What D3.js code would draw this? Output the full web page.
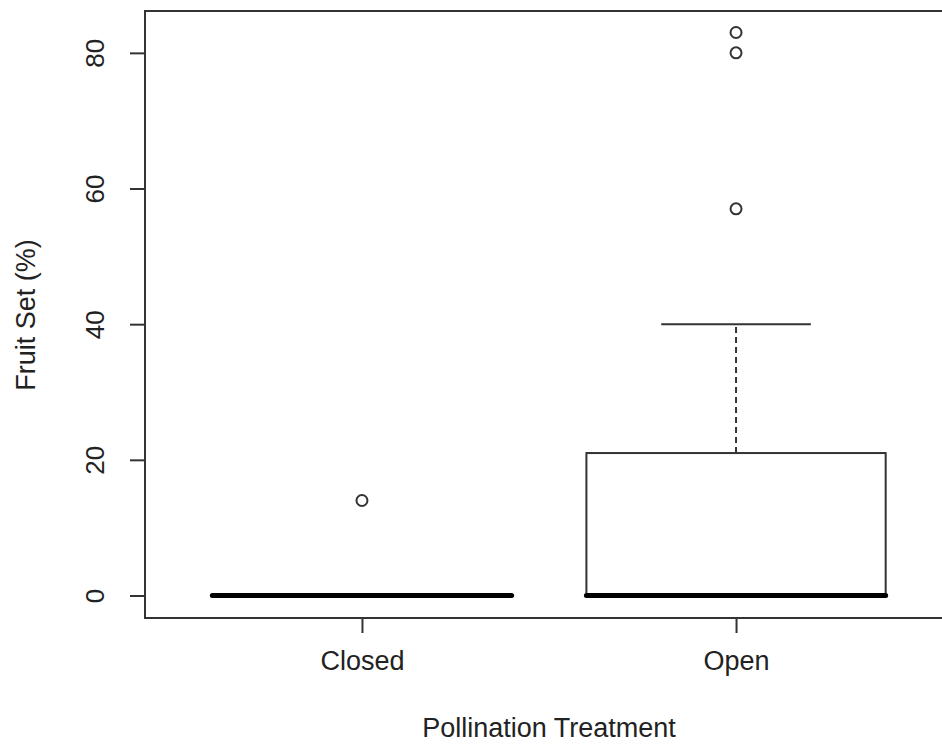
<!doctype html>
<html>
  <head>
    <script src="https://cdn.jsdelivr.net/npm/d3@7/dist/d3.min.js"></script>
    <style>
    body { margin: 0; background: #fff; }
    text { font-family: "Liberation Sans", Arial, sans-serif; fill: #222; }
    .frame { fill: none; stroke: #333; stroke-width: 2; }
    .tick line { stroke: #333; stroke-width: 2; }
    </style>
  </head>
  <body>
    <svg width="942" height="744"></svg>
    <script>
      // boxplot summaries
      var groups = ["Closed", "Open"];
      var lowWhisker = [0, 0];
      var q1 = [0, 0];
      var medians = [0, 0];
      var q3 = [0, 21];
      var highWhisker = [0, 40];
      var outliers = [[14], [57, 80, 83]];
      var yTicks = [0, 20, 40, 60, 80];

      var svg = d3.select("svg");
      var plotL = 145, plotR = 953, plotT = 10, plotB = 618;

      var x = d3.scaleLinear().domain([0.42, 2.58]).range([plotL, plotR]);
      var y = d3.scaleLinear().domain([-3.32, 86.32]).range([plotB, plotT]);

      var boxes = groups.map((g, i) => ({
        name: g, pos: i + 1,
        lo: lowWhisker[i], q1: q1[i], med: medians[i], q3: q3[i], hi: highWhisker[i],
        out: outliers[i]
      }));

      var halfW = 0.4;
      var g = svg.selectAll("g.box")
        .data(boxes)
        .enter()
        .append("g")
          .attr("class", "box");

      // whiskers (dashed)
      g.append("line")
        .attr("x1", d => x(d.pos)).attr("x2", d => x(d.pos))
        .attr("y1", d => y(d.q3)).attr("y2", d => y(d.hi))
        .style("stroke", "#333").style("stroke-width", 2).style("stroke-dasharray", "6,4");
      g.append("line")
        .attr("x1", d => x(d.pos)).attr("x2", d => x(d.pos))
        .attr("y1", d => y(d.q1)).attr("y2", d => y(d.lo))
        .style("stroke", "#333").style("stroke-width", 2).style("stroke-dasharray", "6,4");
      // caps
      g.selectAll("line.cap")
        .data(d => [d.lo, d.hi].map(v => ({ pos: d.pos, v: v })))
        .enter()
        .append("line")
          .attr("class", "cap")
          .attr("x1", d => x(d.pos - halfW / 2)).attr("x2", d => x(d.pos + halfW / 2))
          .attr("y1", d => y(d.v)).attr("y2", d => y(d.v))
          .style("stroke", "#333").style("stroke-width", 2);
      // box
      g.append("rect")
        .attr("x", d => x(d.pos - halfW))
        .attr("width", d => x(d.pos + halfW) - x(d.pos - halfW))
        .attr("y", d => y(d.q3))
        .attr("height", d => y(d.q1) - y(d.q3))
        .style("fill", "#fff").style("stroke", "#333").style("stroke-width", 2);
      // median
      g.append("line")
        .attr("x1", d => x(d.pos - halfW)).attr("x2", d => x(d.pos + halfW))
        .attr("y1", d => y(d.med)).attr("y2", d => y(d.med))
        .style("stroke", "#000").style("stroke-width", 5).style("stroke-linecap", "round");
      // outliers
      g.selectAll("circle")
        .data(d => d.out.map(v => ({ pos: d.pos, v: v })))
        .enter()
        .append("circle")
          .attr("cx", d => x(d.pos)).attr("cy", d => y(d.v))
          .attr("r", 5.5)
          .style("fill", "none").style("stroke", "#333").style("stroke-width", 2);

      // axes
      var yAxis = svg.append("g")
        .attr("transform", `translate(${plotL},0)`)
        .call(d3.axisLeft(y).tickValues(yTicks).tickSize(15));
      yAxis.select(".domain").remove();
      yAxis.selectAll(".tick text")
        .attr("x", null).attr("dy", null)
        .attr("transform", "translate(-50,0) rotate(-90)")
        .style("text-anchor", "middle")
        .style("font-size", "26px")
        .attr("dominant-baseline", "central");

      var xAxis = svg.append("g")
        .attr("transform", `translate(0,${plotB})`)
        .call(d3.axisBottom(x).tickValues(boxes.map(d => d.pos))
          .tickFormat((d, i) => groups[i]).tickSize(15).tickPadding(18));
      xAxis.select(".domain").remove();
      xAxis.selectAll("text").style("font-size", "27px").attr("dy", "0.71em");

      svg.append("rect")
        .attr("class", "frame")
        .attr("x", plotL).attr("y", plotT + 1)
        .attr("width", plotR - plotL).attr("height", plotB - plotT - 1);

      svg.append("text")
        .attr("x", 549).attr("y", 737)
        .style("text-anchor", "middle").style("font-size", "27px")
        .text("Pollination Treatment");
      svg.append("text")
        .attr("transform", "translate(35,315) rotate(-90)")
        .style("text-anchor", "middle").style("font-size", "27px")
        .text("Fruit Set (%)");
    </script>
  </body>
</html>
